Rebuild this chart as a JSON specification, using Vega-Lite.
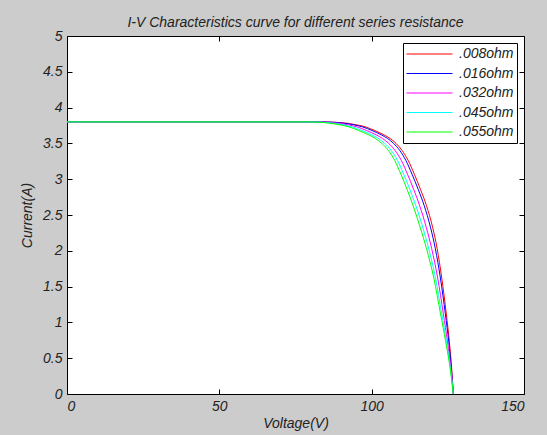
{
  "$schema": "https://vega.github.io/schema/vega-lite/v6.json",
  "width": 457,
  "height": 358,
  "autosize": {"type": "none"},
  "padding": {"left": 67, "top": 36, "right": 23, "bottom": 41},
  "background": "#cccccc",
  "view": {"fill": "white", "stroke": "black", "strokeWidth": 1},
  "title": {
    "text": "I-V Characteristics curve for different series resistance",
    "font": "Liberation Sans", "fontSize": 14, "fontStyle": "italic", "fontWeight": "normal",
    "color": "#222222", "offset": -1, "anchor": "middle"
  },
  "config": {
    "axis": {
      "grid": false,
      "labelFont": "Liberation Sans", "labelFontStyle": "italic", "labelFontSize": 14, "labelColor": "#222222",
      "titleFont": "Liberation Sans", "titleFontStyle": "italic", "titleFontWeight": "normal", "titleFontSize": 14, "titleColor": "#222222",
      "domainColor": "black", "tickColor": "black", "tickSize": -5, "domain": false
    }
  },
  "datasets": {
    "iv": [
      {"R": ".008ohm", "V": 0, "I": 3.80}, {"R": ".008ohm", "V": 84, "I": 3.80}, {"R": ".008ohm", "V": 90, "I": 3.79}, {"R": ".008ohm", "V": 95, "I": 3.76}, {"R": ".008ohm", "V": 98, "I": 3.73}, {"R": ".008ohm", "V": 101, "I": 3.68}, {"R": ".008ohm", "V": 104, "I": 3.62}, {"R": ".008ohm", "V": 106, "I": 3.57}, {"R": ".008ohm", "V": 108, "I": 3.50}, {"R": ".008ohm", "V": 110, "I": 3.40}, {"R": ".008ohm", "V": 112, "I": 3.26}, {"R": ".008ohm", "V": 114, "I": 3.07}, {"R": ".008ohm", "V": 116, "I": 2.86}, {"R": ".008ohm", "V": 118, "I": 2.63}, {"R": ".008ohm", "V": 120, "I": 2.33}, {"R": ".008ohm", "V": 121.5, "I": 2.03}, {"R": ".008ohm", "V": 123, "I": 1.62}, {"R": ".008ohm", "V": 124.5, "I": 1.12}, {"R": ".008ohm", "V": 125.5, "I": 0.73}, {"R": ".008ohm", "V": 126.3, "I": 0.33}, {"R": ".008ohm", "V": 126.8, "I": 0},
      {"R": ".016ohm", "V": 0, "I": 3.80}, {"R": ".016ohm", "V": 83.15, "I": 3.80}, {"R": ".016ohm", "V": 89.07, "I": 3.79}, {"R": ".016ohm", "V": 94.07, "I": 3.76}, {"R": ".016ohm", "V": 97.08, "I": 3.73}, {"R": ".016ohm", "V": 100.1, "I": 3.68}, {"R": ".016ohm", "V": 103.15, "I": 3.62}, {"R": ".016ohm", "V": 105.18, "I": 3.57}, {"R": ".016ohm", "V": 107.2, "I": 3.50}, {"R": ".016ohm", "V": 109.24, "I": 3.40}, {"R": ".016ohm", "V": 111.25, "I": 3.26}, {"R": ".016ohm", "V": 113.25, "I": 3.07}, {"R": ".016ohm", "V": 115.25, "I": 2.86}, {"R": ".016ohm", "V": 117.25, "I": 2.63}, {"R": ".016ohm", "V": 119.3, "I": 2.33}, {"R": ".016ohm", "V": 120.9, "I": 2.03}, {"R": ".016ohm", "V": 122.56, "I": 1.62}, {"R": ".016ohm", "V": 124.18, "I": 1.12}, {"R": ".016ohm", "V": 125.3, "I": 0.73}, {"R": ".016ohm", "V": 126.22, "I": 0.33}, {"R": ".016ohm", "V": 126.8, "I": 0},
      {"R": ".032ohm", "V": 0, "I": 3.80}, {"R": ".032ohm", "V": 81.45, "I": 3.80}, {"R": ".032ohm", "V": 87.2, "I": 3.79}, {"R": ".032ohm", "V": 92.2, "I": 3.76}, {"R": ".032ohm", "V": 95.25, "I": 3.73}, {"R": ".032ohm", "V": 98.3, "I": 3.68}, {"R": ".032ohm", "V": 101.45, "I": 3.62}, {"R": ".032ohm", "V": 103.53, "I": 3.57}, {"R": ".032ohm", "V": 105.6, "I": 3.50}, {"R": ".032ohm", "V": 107.7, "I": 3.40}, {"R": ".032ohm", "V": 109.76, "I": 3.26}, {"R": ".032ohm", "V": 111.76, "I": 3.07}, {"R": ".032ohm", "V": 113.76, "I": 2.86}, {"R": ".032ohm", "V": 115.76, "I": 2.63}, {"R": ".032ohm", "V": 117.9, "I": 2.33}, {"R": ".032ohm", "V": 119.7, "I": 2.03}, {"R": ".032ohm", "V": 121.67, "I": 1.62}, {"R": ".032ohm", "V": 123.53, "I": 1.12}, {"R": ".032ohm", "V": 124.89, "I": 0.73}, {"R": ".032ohm", "V": 126.07, "I": 0.33}, {"R": ".032ohm", "V": 126.8, "I": 0},
      {"R": ".045ohm", "V": 0, "I": 3.80}, {"R": ".045ohm", "V": 80.05, "I": 3.80}, {"R": ".045ohm", "V": 85.66, "I": 3.79}, {"R": ".045ohm", "V": 90.66, "I": 3.76}, {"R": ".045ohm", "V": 93.73, "I": 3.73}, {"R": ".045ohm", "V": 96.8, "I": 3.68}, {"R": ".045ohm", "V": 100.05, "I": 3.62}, {"R": ".045ohm", "V": 102.17, "I": 3.57}, {"R": ".045ohm", "V": 104.29, "I": 3.50}, {"R": ".045ohm", "V": 106.45, "I": 3.40}, {"R": ".045ohm", "V": 108.52, "I": 3.26}, {"R": ".045ohm", "V": 110.52, "I": 3.07}, {"R": ".045ohm", "V": 112.52, "I": 2.86}, {"R": ".045ohm", "V": 114.52, "I": 2.63}, {"R": ".045ohm", "V": 116.76, "I": 2.33}, {"R": ".045ohm", "V": 118.74, "I": 2.03}, {"R": ".045ohm", "V": 120.95, "I": 1.62}, {"R": ".045ohm", "V": 123.0, "I": 1.12}, {"R": ".045ohm", "V": 124.55, "I": 0.73}, {"R": ".045ohm", "V": 125.94, "I": 0.33}, {"R": ".045ohm", "V": 126.8, "I": 0},
      {"R": ".055ohm", "V": 0, "I": 3.80}, {"R": ".055ohm", "V": 79, "I": 3.80}, {"R": ".055ohm", "V": 84.5, "I": 3.79}, {"R": ".055ohm", "V": 89.5, "I": 3.76}, {"R": ".055ohm", "V": 92.6, "I": 3.73}, {"R": ".055ohm", "V": 95.7, "I": 3.68}, {"R": ".055ohm", "V": 99.0, "I": 3.62}, {"R": ".055ohm", "V": 101.15, "I": 3.57}, {"R": ".055ohm", "V": 103.3, "I": 3.50}, {"R": ".055ohm", "V": 105.5, "I": 3.40}, {"R": ".055ohm", "V": 107.6, "I": 3.26}, {"R": ".055ohm", "V": 109.6, "I": 3.07}, {"R": ".055ohm", "V": 111.6, "I": 2.86}, {"R": ".055ohm", "V": 113.6, "I": 2.63}, {"R": ".055ohm", "V": 115.9, "I": 2.33}, {"R": ".055ohm", "V": 118.0, "I": 2.03}, {"R": ".055ohm", "V": 120.4, "I": 1.62}, {"R": ".055ohm", "V": 122.6, "I": 1.12}, {"R": ".055ohm", "V": 124.3, "I": 0.73}, {"R": ".055ohm", "V": 125.85, "I": 0.33}, {"R": ".055ohm", "V": 126.8, "I": 0}
    ]
  },
  "data": {"name": "iv"},
  "layer": [
    {
      "mark": {"type": "line", "strokeWidth": 1, "interpolate": "monotone", "clip": true},
      "encoding": {
        "x": {"field": "V", "type": "quantitative", "scale": {"domain": [0, 150], "nice": false},
              "axis": {"orient": "bottom", "values": [0, 50, 100, 150], "title": "Voltage(V)", "labelPadding": 10, "titlePadding": 3}},
        "y": {"field": "I", "type": "quantitative", "scale": {"domain": [0, 5], "nice": false},
              "axis": {"orient": "left", "values": [0, 0.5, 1, 1.5, 2, 2.5, 3, 3.5, 4, 4.5, 5], "format": "~g", "title": "Current(A)", "labelPadding": 10, "titlePadding": 8}},
        "color": {"field": "R", "type": "nominal",
          "scale": {"domain": [".008ohm", ".016ohm", ".032ohm", ".045ohm", ".055ohm"], "range": ["#ff0000", "#0000ff", "#ff00ff", "#00ffff", "#00ff00"]},
          "legend": {
            "title": null, "orient": "top-right", "offset": 7,
            "strokeColor": "black", "fillColor": "white", "padding": 3, "cornerRadius": 0,
            "symbolType": "stroke", "symbolSize": 2116, "symbolStrokeWidth": 1,
            "clipHeight": 16,
            "labelFont": "Liberation Sans", "labelFontStyle": "italic", "labelFontSize": 14, "labelColor": "#222222",
            "labelOffset": 6, "rowPadding": 3.5
          }
        }
      }
    },
    {
      "mark": {"type": "point", "opacity": 0},
      "encoding": {
        "x": {"field": "V", "type": "quantitative", "axis": {"orient": "top", "values": [0, 50, 100, 150], "labels": false, "title": null}},
        "y": {"field": "I", "type": "quantitative", "axis": {"orient": "right", "values": [0, 0.5, 1, 1.5, 2, 2.5, 3, 3.5, 4, 4.5, 5], "labels": false, "title": null}}
      }
    }
  ],
  "resolve": {"axis": {"x": "independent", "y": "independent"}}
}
